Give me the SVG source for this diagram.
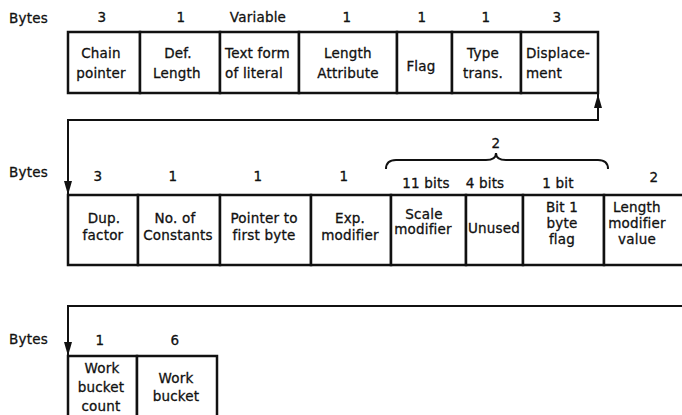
<svg xmlns="http://www.w3.org/2000/svg" width="682" height="415" viewBox="0 0 682 415">
<style>
text{font-family:"DejaVu Sans","Liberation Sans",sans-serif;font-size:13.5px;fill:#111;stroke:#111;stroke-width:0.3px;letter-spacing:0.2px}
.c{text-anchor:middle}
.box{fill:#fff;stroke:#111;stroke-width:2.5}
.conn{fill:none;stroke:#111;stroke-width:2}
</style>
<defs>
<marker id="ah" viewBox="0 0 14 8" refX="14" refY="4" markerWidth="14" markerHeight="8" markerUnits="userSpaceOnUse" orient="auto-start-reverse">
<path d="M0,0 L14,4 L0,8 z" fill="#111"/>
</marker>
</defs>

<g id="labels">
<text x="9" y="23">Bytes</text>
<text class="c" x="102" y="22">3</text>
<text class="c" x="181" y="22">1</text>
<text class="c" x="258" y="22">Variable</text>
<text class="c" x="347" y="22">1</text>
<text class="c" x="422" y="22">1</text>
<text class="c" x="486" y="22">1</text>
<text class="c" x="557" y="22">3</text>

<text x="9" y="177">Bytes</text>
<text class="c" x="98" y="181">3</text>
<text class="c" x="173" y="181">1</text>
<text class="c" x="258" y="181">1</text>
<text class="c" x="344" y="181">1</text>
<text class="c" x="426" y="188">11 bits</text>
<text class="c" x="485" y="188">4 bits</text>
<text class="c" x="558" y="188">1 bit</text>
<text class="c" x="654" y="182">2</text>
<text class="c" x="496" y="148">2</text>
<path d="M386,169 Q386,160 396,160 H486 Q496,160 496,153 Q496,160 506,160 H598 Q608,160 608,169" fill="none" stroke="#111" stroke-width="2"/>

<text x="9" y="344">Bytes</text>
<text class="c" x="100" y="345">1</text>
<text class="c" x="175" y="345">6</text>
</g>

<g id="connectors">
<path class="conn" d="M598,94 V120 H68 V195" marker-start="url(#ah)" marker-end="url(#ah)"/>
<path class="conn" d="M684,306 H68 V356" marker-end="url(#ah)"/>
</g>

<g id="chain-pointer"><rect class="box" x="68" y="32" width="72" height="61"/><text class="c" x="101" y="58">Chain</text><text class="c" x="101" y="78">pointer</text></g>
<g id="def-length"><rect class="box" x="140" y="32" width="80" height="61"/><text class="c" x="178" y="58">Def.</text><text class="c" x="177" y="78">Length</text></g>
<g id="text-form"><rect class="box" x="220" y="32" width="79" height="61"/><text x="225" y="58">Text form</text><text x="225" y="78">of literal</text></g>
<g id="length-attribute"><rect class="box" x="299" y="32" width="98" height="61"/><text class="c" x="348" y="58">Length</text><text class="c" x="348" y="78">Attribute</text></g>
<g id="flag"><rect class="box" x="397" y="32" width="55" height="61"/><text class="c" x="421" y="71">Flag</text></g>
<g id="type-trans"><rect class="box" x="452" y="32" width="69" height="61"/><text class="c" x="483" y="58">Type</text><text class="c" x="483" y="78">trans.</text></g>
<g id="displacement"><rect class="box" x="521" y="32" width="77" height="61"/><text x="526" y="58">Displace-</text><text x="526" y="78">ment</text></g>

<g id="dup-factor"><rect class="box" x="68" y="195" width="70" height="70"/><text class="c" x="104" y="223">Dup.</text><text class="c" x="103" y="240">factor</text></g>
<g id="no-of-constants"><rect class="box" x="138" y="195" width="82" height="70"/><text class="c" x="175" y="223">No. of</text><text class="c" x="178" y="240">Constants</text></g>
<g id="pointer-first-byte"><rect class="box" x="220" y="195" width="91" height="70"/><text class="c" x="264" y="223">Pointer to</text><text class="c" x="264" y="240">first byte</text></g>
<g id="exp-modifier"><rect class="box" x="311" y="195" width="80" height="70"/><text class="c" x="350" y="223">Exp.</text><text class="c" x="350" y="240">modifier</text></g>
<g id="scale-modifier"><rect class="box" x="391" y="195" width="75" height="70"/><text class="c" x="424" y="219">Scale</text><text class="c" x="423" y="234">modifier</text></g>
<g id="unused"><rect class="box" x="466" y="195" width="57" height="70"/><text class="c" x="494" y="233">Unused</text></g>
<g id="bit1-byte-flag"><rect class="box" x="523" y="195" width="81" height="70"/><text class="c" x="562" y="212">Bit 1</text><text class="c" x="562" y="228">byte</text><text class="c" x="562" y="244">flag</text></g>
<g id="length-modifier-value"><rect class="box" x="604" y="195" width="90" height="70"/><text class="c" x="637" y="212">Length</text><text class="c" x="637" y="228">modifier</text><text class="c" x="637" y="244">value</text></g>

<g id="work-bucket-count"><rect class="box" x="68" y="356" width="69" height="80"/><text class="c" x="102" y="373">Work</text><text class="c" x="101" y="392">bucket</text><text class="c" x="101" y="411">count</text></g>
<g id="work-bucket"><rect class="box" x="137" y="356" width="80" height="80"/><text class="c" x="176" y="383">Work</text><text class="c" x="176" y="401">bucket</text></g>
</svg>
